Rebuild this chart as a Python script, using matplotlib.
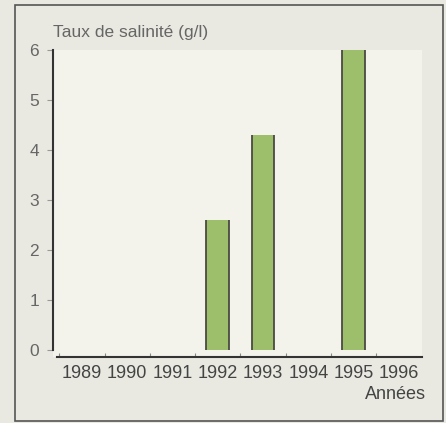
import matplotlib
matplotlib.use("Agg")
import matplotlib.pyplot as plt
from matplotlib.patches import Rectangle

# salinity per year (g/l), 0 = no measurement shown
years = [1989, 1990, 1991, 1992, 1993, 1994, 1995, 1996]
salinity = [0, 0, 0, 2.6, 4.3, 0, 6.0, 0]
y_ticks = [0, 1, 2, 3, 4, 5, 6]

W, H = 446, 423
plt.rcParams['font.family'] = ['Liberation Sans', 'DejaVu Sans']

fig = plt.figure(figsize=(W / 100, H / 100), dpi=100)
fig.patch.set_facecolor('#e9e9e1')
ax = fig.add_axes([53 / W, 66 / H, 369 / W, 307 / H])
ax.set_facecolor('#f3f3ec')

bars = ax.bar(years, salinity, width=0.5, color='#9dbf6b', edgecolor='none', zorder=2)
for b in bars:
    if b.get_height() > 0:
        x0 = b.get_x()
        x1 = x0 + b.get_width()
        ax.vlines([x0, x1], 0, b.get_height(), color='#4a4a42', lw=1.3, zorder=3)

ax.set_xlim(1988.36, 1996.51)
ax.set_ylim(-0.14, 6)

for s in ['top', 'right']:
    ax.spines[s].set_visible(False)
ax.spines['left'].set_bounds(0.0, 6)
ax.spines['left'].set_color('#333333')
ax.spines['left'].set_linewidth(1.5)
ax.spines['bottom'].set_bounds(1988.45, 1996.51)
ax.spines['bottom'].set_color('#333333')
ax.spines['bottom'].set_linewidth(1.5)

ax.set_yticks(y_ticks)
ax.set_yticklabels([str(t) for t in y_ticks])
ax.set_xticks(years)
ax.set_xticklabels([str(y) for y in years])
ax.set_xticks([y + 0.5 for y in years[:-1]] + [years[0] - 0.5], minor=True)

ax.tick_params(axis='y', length=4, width=0.8, color='#999999', pad=6,
               labelsize=12.5, labelcolor='#666666')
ax.tick_params(axis='x', which='major', length=0, pad=6,
               labelsize=13, labelcolor='#444444')
ax.tick_params(axis='x', which='minor', direction='in', length=3, width=0.8,
               color='#888888')

fig.text(53 / W, 1 - 37 / H, 'Taux de salinité (g/l)', fontsize=12.5,
         color='#666666', ha='left', va='baseline')
fig.text(426 / W, 1 - 394 / H, 'Années', fontsize=13,
         color='#444444', ha='right', va='center')

frame = Rectangle((15 / W, 2 / H), 428 / W, 416 / H, transform=fig.transFigure,
                  fill=False, edgecolor='#555555', lw=1.2)
fig.patches.append(frame)

fig.savefig('out.png', dpi=100, facecolor=fig.get_facecolor())
